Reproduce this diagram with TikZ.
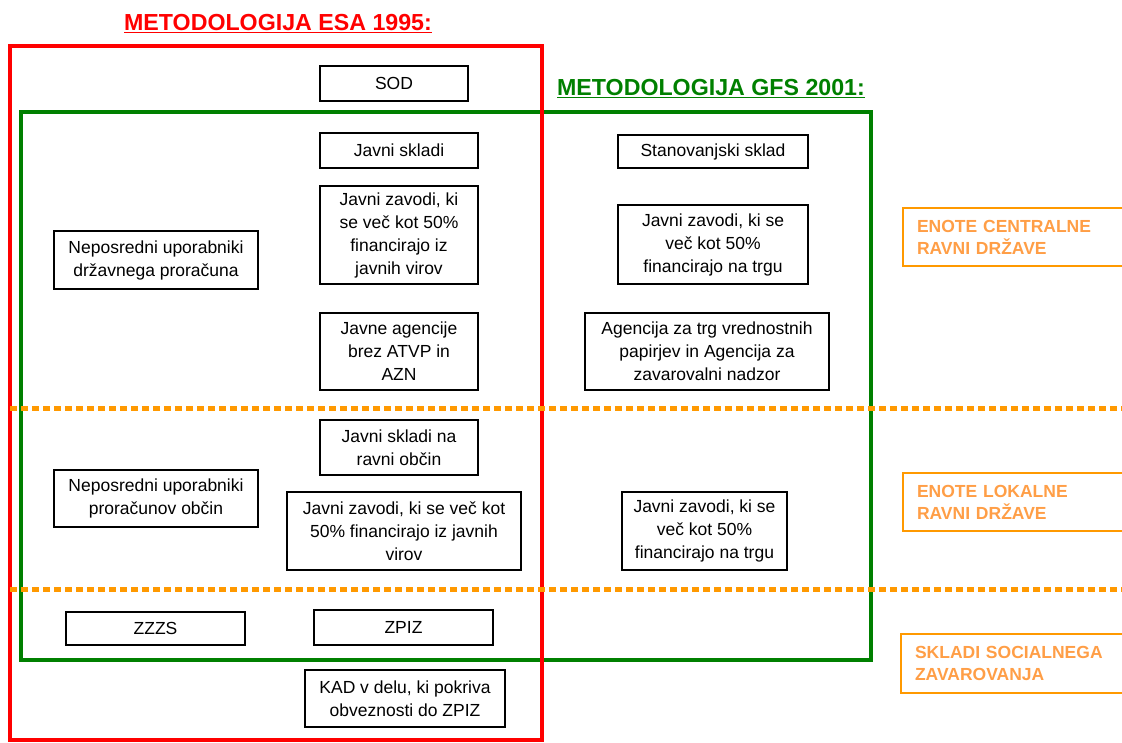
\documentclass[tikz,border=0pt]{standalone}
\usepackage{fontspec}
\setmainfont{Liberation Sans}
\usepackage{xcolor}
\definecolor{esared}{RGB}{255,0,0}
\definecolor{gfsgreen}{RGB}{0,128,0}
\definecolor{ravenorange}{RGB}{255,153,0}
\definecolor{raventext}{RGB}{255,158,70}

\begin{document}
\begin{tikzpicture}[x=1pt,y=-1pt]
\tikzstyle{enota} =[draw, line width=1.6pt, inner sep=0pt, align=center, font=\fontsize{17.5}{23}\selectfont]
\tikzstyle{raven} =[draw=ravenorange, line width=2pt, anchor=north west, inner xsep=14pt, inner ysep=0pt, text width=212pt, align=left, text=raventext, font=\bfseries\fontsize{17.5}{22}\selectfont]
\tikzstyle{meja} =[ravenorange, line width=5pt, dash pattern=on 7pt off 4pt]
\tikzstyle{naslov} =[font=\bfseries\fontsize{23.2}{27}\selectfont]

\useasboundingbox (0,0) rectangle (1122,742);

% metodologiji
\draw[gfsgreen, line width=4.5pt] (21,112) rectangle (871,660);
\draw[esared, line width=4.5pt] (10,46) rectangle (542,740);
\node[naslov, text=esared](esa) at (278,24){\underline{METODOLOGIJA ESA 1995:}};
\node[naslov, text=gfsgreen](gfs) at (711,89){\underline{METODOLOGIJA GFS 2001:}};

% ravni
\draw[meja] (10,408) -- (1122,408);
\draw[meja] (10,589) -- (1122,589);
\node[raven, minimum height=58pt](ecr) at (902,207){ENOTE CENTRALNE\\RAVNI DRŽAVE};
\node[raven, minimum height=58pt](elr) at (902,472){ENOTE LOKALNE\\RAVNI DRŽAVE};
\node[raven, minimum height=59pt](ssz) at (900,633){SKLADI SOCIALNEGA\\ZAVAROVANJA};

% centralna raven
\node[enota, minimum width=148pt, minimum height=35pt](sod) at (394,83.5){SOD};
\node[enota, minimum width=158pt, minimum height=35pt](jskladi) at (399,150.5){Javni skladi};
\node[enota, minimum width=158pt, minimum height=98pt](jzavodi) at (399,235){Javni zavodi, ki\\se več kot 50\%\\financirajo iz\\javnih virov};
\node[enota, minimum width=204pt, minimum height=58pt](nup) at (156,260){Neposredni uporabniki\\državnega proračuna};
\node[enota, minimum width=158pt, minimum height=77pt](jagencije) at (399,351.5){Javne agencije\\brez ATVP in\\AZN};
\node[enota, minimum width=190pt, minimum height=33pt](stan) at (713,151.5){Stanovanjski sklad};
\node[enota, minimum width=190pt, minimum height=79pt](jzavtrg) at (713,244.5){Javni zavodi, ki se\\več kot 50\%\\financirajo na trgu};
\node[enota, minimum width=244pt, minimum height=77pt](atvp) at (707,351.5){Agencija za trg vrednostnih\\papirjev in Agencija za\\zavarovalni nadzor};

% lokalna raven
\node[enota, minimum width=158pt, minimum height=55pt](jsobcin) at (399,447.5){Javni skladi na\\ravni občin};
\node[enota, minimum width=204pt, minimum height=57pt](nupobcin) at (156,498.5){Neposredni uporabniki\\proračunov občin};
\node[enota, minimum width=234pt, minimum height=78pt](jzavobcin) at (404,531){Javni zavodi, ki se več kot\\50\% financirajo iz javnih\\virov};
\node[enota, minimum width=165pt, minimum height=78pt](jzavtrgobcin) at (704.5,531){Javni zavodi, ki se\\več kot 50\%\\financirajo na trgu};

% socialno zavarovanje
\node[enota, minimum width=179pt, minimum height=33pt](zzzs) at (155.5,628.5){ZZZS};
\node[enota, minimum width=179pt, minimum height=35pt](zpiz) at (403.5,627.5){ZPIZ};
\node[enota, minimum width=200pt, minimum height=57pt](kad) at (405,698.5){KAD v delu, ki pokriva\\obveznosti do ZPIZ};

\end{tikzpicture}
\end{document}
